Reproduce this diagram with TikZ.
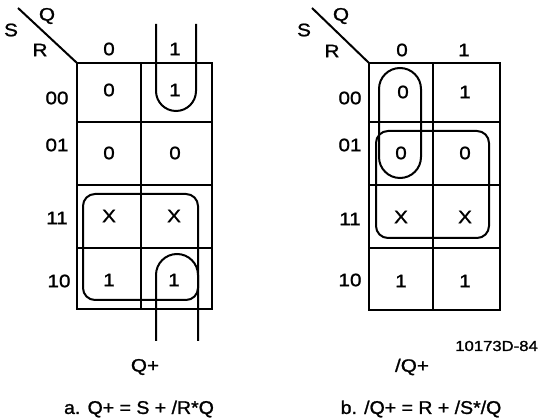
\documentclass[tikz,border=0pt]{standalone}
\usepackage{fontspec}
\setmainfont[FakeStretch=1.06,FakeBold=1.2]{Liberation Sans}
\newfontfamily\wfont[FakeStretch=1.15,FakeBold=1.2]{Liberation Sans}
\begin{document}
\begin{tikzpicture}[x=1pt,y=-1pt,
  grid/.style={line width=2.4pt},
  diag/.style={line width=2pt},
  loop/.style={line width=2pt},
  lbl/.style={font=\wfont\fontsize{18}{20}\selectfont, inner sep=0pt},
  captxt/.style={font=\fontsize{18.4}{20}\selectfont, inner sep=0pt}]
\useasboundingbox (0,0) rectangle (541,419);
% ---------- left map ----------
\draw[grid] (77,63) rectangle (212,309);
\draw[grid] (141,63) -- (141,309);
\foreach \y in {122,185,248} \draw[grid] (77,\y) -- (212,\y);
\coordinate (la) at (18,8);
\coordinate (lb) at (77,63);
\draw[diag] (la) -- (lb);
\node[lbl] (lS) at (11,30) {S};
\node[lbl] (lQ) at (47,16) {Q};
\node[lbl] (lR) at (40,50) {R};
\node[lbl] (lc0) at (109,49) {0};
\node[lbl] (lc1) at (175,49) {1};
\node[lbl] (lr00) at (57,98) {00};
\node[lbl] (lr01) at (57,145) {01};
\node[lbl] (lr11) at (57,218) {11};
\node[lbl] (lr10) at (59,281) {10};
\node[lbl] (l00a) at (109,90) {0};
\node[lbl] (l00b) at (175,90) {1};
\node[lbl] (l01a) at (109,153) {0};
\node[lbl] (l01b) at (175,153) {0};
\node[lbl] (l11a) at (109,216) {X};
\node[lbl] (l11b) at (174,216) {X};
\node[lbl] (l10a) at (109,280) {1};
\node[lbl] (l10b) at (174,280) {1};
\draw[loop, rounded corners=20pt] (156,24) -- (156,111) -- (196,111) -- (196,24);
\draw[loop, rounded corners=21pt] (156,341) -- (156,254) -- (198,254) -- (198,341);
\draw[loop, rounded corners=12pt] (83,194) rectangle (198,300);
\node[lbl] (lq) at (145,367) {Q+};
\node[captxt] (lcap) at (139,409) {a. Q+ = S + /R*Q};
% ---------- right map ----------
\draw[grid] (369,63) rectangle (500,310);
\draw[grid] (433,63) -- (433,310);
\foreach \y in {122,185,248} \draw[grid] (369,\y) -- (500,\y);
\coordinate (ra) at (312,8);
\coordinate (rb) at (369,63);
\draw[diag] (ra) -- (rb);
\node[lbl] (rS) at (304,30) {S};
\node[lbl] (rQ) at (341,16) {Q};
\node[lbl] (rR) at (332,51) {R};
\node[lbl] (rc0) at (402,50) {0};
\node[lbl] (rc1) at (464,50) {1};
\node[lbl] (rr00) at (350,98) {00};
\node[lbl] (rr01) at (350,145) {01};
\node[lbl] (rr11) at (350,219) {11};
\node[lbl] (rr10) at (350,280) {10};
\node[lbl] (r00a) at (403,92) {0};
\node[lbl] (r00b) at (465,92) {1};
\node[lbl] (r01a) at (401,153) {0};
\node[lbl] (r01b) at (465,153) {0};
\node[lbl] (r11a) at (401,217) {X};
\node[lbl] (r11b) at (465,217) {X};
\node[lbl] (r10a) at (401,281) {1};
\node[lbl] (r10b) at (465,281) {1};
\draw[loop, rounded corners=21pt] (379,68) rectangle (421,178);
\draw[loop, rounded corners=12pt] (376,131) rectangle (489,238);
\node[lbl] (rq) at (412,367) {/Q+};
\node[captxt] (rcap) at (421,409) {b. /Q+ = R + /S*/Q};
\node[font=\wfont\fontsize{14.5}{16}\selectfont, inner sep=0pt, anchor=east] (id) at (538,346) {10173D-84};
\end{tikzpicture}
\end{document}
